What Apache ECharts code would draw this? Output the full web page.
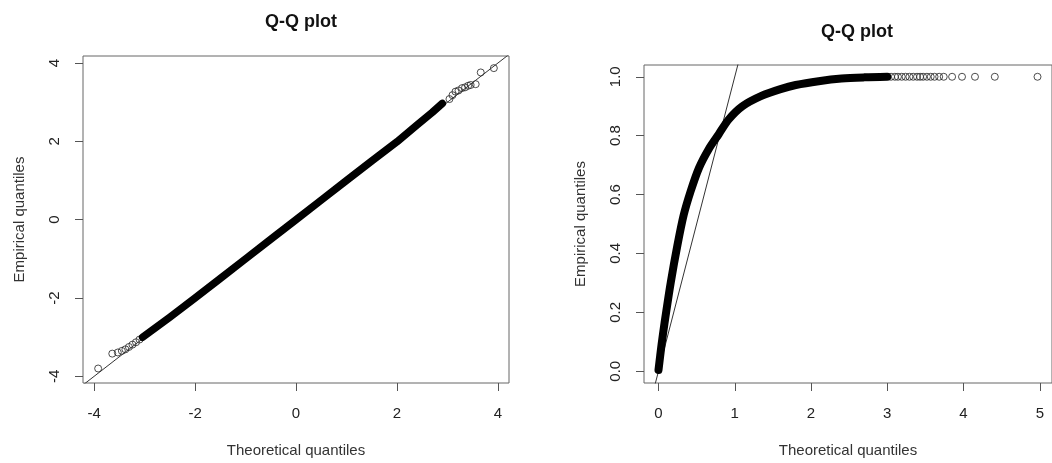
<!DOCTYPE html>
<html>
<head>
<meta charset="utf-8">
<title>Q-Q plots</title>
<script src="https://cdn.jsdelivr.net/npm/echarts@6/dist/echarts.min.js"></script>
<style>
  html, body { margin: 0; padding: 0; background: #fff; }
  #chart { width: 1052px; height: 463px; }
</style>
</head>
<body>
<div id="chart"></div>
<script>
// Left panel: normal sample against normal quantiles
var leftXTicks = [-4, -2, 0, 2, 4];
var leftYTicks = [-4, -2, 0, 2, 4];
// dense central run of points (overlapping circles)
var leftBandX = [-3.04, -2.5, -2.0, -1.5, -1.0, -0.5, 0.0, 0.5, 1.0, 1.5, 2.0, 2.4, 2.7, 2.9];
var leftBandY = [-3.00, -2.49, -2.0, -1.5, -1.0, -0.5, 0.0, 0.5, 1.0, 1.5, 1.99, 2.42, 2.74, 2.97];
// sparse tail points
var leftTailX = [-3.92, -3.64, -3.53, -3.45, -3.38, -3.31, -3.24, -3.17, -3.10,
                 3.04, 3.10, 3.16, 3.22, 3.29, 3.35, 3.41, 3.46, 3.56, 3.66, 3.92];
var leftTailY = [-3.80, -3.42, -3.39, -3.35, -3.31, -3.25, -3.19, -3.13, -3.06,
                 3.08, 3.18, 3.27, 3.30, 3.36, 3.38, 3.42, 3.44, 3.46, 3.76, 3.87];

// Right panel: bounded sample against exponential quantiles
var rightXTicks = [0, 1, 2, 3, 4, 5];
var rightYTicks = [0, 0.2, 0.4, 0.6, 0.8, 1.0];
var rightBandX = [0.0, 0.04, 0.08, 0.16, 0.25, 0.33, 0.42, 0.53, 0.66, 0.79, 0.92, 1.1, 1.35, 1.6, 1.8, 2.1, 2.4, 2.7, 3.0];
var rightBandY = [0.004, 0.09, 0.165, 0.30, 0.43, 0.53, 0.61, 0.69, 0.755, 0.805, 0.855, 0.90, 0.935, 0.958, 0.972, 0.985, 0.994, 0.998, 1.0];
var rightTailX = [3.05, 3.10, 3.14, 3.19, 3.24, 3.29, 3.34, 3.39, 3.43, 3.47, 3.52, 3.57, 3.62, 3.68, 3.74, 3.85, 3.98, 4.15, 4.41, 4.97];
var rightTailY = [1.0, 1.0, 1.0, 1.0, 1.0, 1.0, 1.0, 1.0, 1.0, 1.0, 1.0, 1.0, 1.0, 1.0, 1.0, 1.0, 1.0, 1.0, 1.0, 1.0];

var titleText = 'Q-Q plot';
var xName = 'Theoretical quantiles';
var yName = 'Empirical quantiles';

function pairs(xs, ys) {
  return xs.map(function (x, i) { return [x, ys[i]]; });
}

var FONT = 'Liberation Sans, Arial, sans-serif';
var tickLabel = { fontFamily: FONT, fontSize: 15, color: '#222' };
var nameStyle = { fontFamily: FONT, fontSize: 15, color: '#333' };

function xAxis(idx, min, max, ticks) {
  return {
    type: 'value', gridIndex: idx, min: min, max: max,
    name: xName, nameLocation: 'middle', nameGap: 60, nameTextStyle: nameStyle,
    axisLine: { show: false, onZero: false },
    splitLine: { show: false },
    axisTick: { show: true, inside: false, length: 8, customValues: ticks,
                lineStyle: { color: '#555', width: 1 } },
    axisLabel: Object.assign({ margin: 23, customValues: ticks,
                formatter: function (v) { return String(v); } }, tickLabel)
  };
}
function yAxis(idx, min, max, ticks, fmt) {
  return {
    type: 'value', gridIndex: idx, min: min, max: max,
    name: yName, nameLocation: 'middle', nameGap: 56, nameRotate: 90, nameTextStyle: nameStyle,
    axisLine: { show: false, onZero: false },
    splitLine: { show: false },
    axisTick: { show: true, inside: false, length: 8, customValues: ticks,
                lineStyle: { color: '#555', width: 1 } },
    axisLabel: Object.assign({ margin: 21, rotate: 90, customValues: ticks,
                formatter: fmt }, tickLabel)
  };
}

var circleStyle = { color: 'rgba(0,0,0,0)', borderColor: '#222', borderWidth: 1 };

var chart = echarts.init(document.getElementById('chart'), null, { renderer: 'canvas' });
chart.setOption({
  animation: false,
  backgroundColor: '#fff',
  title: [
    { text: titleText, left: 296, top: 8, textAlign: 'center',
      textStyle: { fontFamily: FONT, fontSize: 18, fontWeight: 'bold', color: '#111' } },
    { text: titleText, left: 852, top: 18, textAlign: 'center',
      textStyle: { fontFamily: FONT, fontSize: 18, fontWeight: 'bold', color: '#111' } }
  ],
  grid: [
    { left: 83, top: 56, width: 426, height: 331, show: true, borderColor: '#666', borderWidth: 1, backgroundColor: 'transparent' },
    { left: 644, top: 65, width: 416, height: 321, show: true, borderColor: '#666', borderWidth: 1, backgroundColor: 'transparent' }
  ],
  xAxis: [
    xAxis(0, -4.22, 4.22, leftXTicks),
    xAxis(1, -0.19, 5.16, rightXTicks)
  ],
  yAxis: [
    yAxis(0, -4.17, 4.18, leftYTicks, function (v) { return String(v); }),
    yAxis(1, -0.04, 1.04, rightYTicks, function (v) { return v.toFixed(1); })
  ],
  series: [
    { type: 'line', xAxisIndex: 0, yAxisIndex: 0, data: [[-4.22, -4.22], [4.22, 4.22]],
      symbol: 'none', lineStyle: { color: '#333', width: 1 }, clip: true, silent: true },
    { type: 'line', xAxisIndex: 0, yAxisIndex: 0, data: pairs(leftBandX, leftBandY),
      symbol: 'none', smooth: false, lineStyle: { color: '#000', width: 7.5, cap: 'round', join: 'round' } },
    { type: 'scatter', xAxisIndex: 0, yAxisIndex: 0, data: pairs(leftTailX, leftTailY),
      symbol: 'circle', symbolSize: 7, itemStyle: circleStyle },

    { type: 'line', xAxisIndex: 1, yAxisIndex: 1, data: [[-0.19, -0.19], [1.2, 1.2]],
      symbol: 'none', lineStyle: { color: '#333', width: 1 }, clip: true, silent: true },
    { type: 'line', xAxisIndex: 1, yAxisIndex: 1, data: pairs(rightBandX, rightBandY),
      symbol: 'none', smooth: 0.3,
      lineStyle: { color: '#000', width: 8, cap: 'round', join: 'round' } },
    { type: 'scatter', xAxisIndex: 1, yAxisIndex: 1, data: pairs(rightTailX, rightTailY),
      symbol: 'circle', symbolSize: 7, itemStyle: circleStyle }
  ]
});
</script>
</body>
</html>
